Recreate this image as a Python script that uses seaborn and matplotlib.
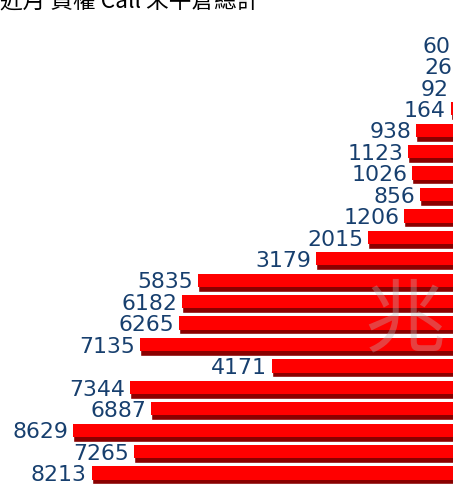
import numpy as np
import pandas as pd
import seaborn as sns
import matplotlib.pyplot as plt

sns.set_style("white")
plt.rcParams['font.family'] = ['Noto Sans CJK TC', 'DejaVu Sans']

title = "近月 買權 Call 未平倉總計"
strikes = [f"r{i}" for i in range(21)]
values = [60, 26, 92, 164, 938, 1123, 1026, 856, 1206, 2015, 3179,
          5835, 6182, 6265, 7135, 4171, 7344, 6887, 8629, 7265, 8213]

df = pd.DataFrame({"row": strikes, "oi": values})

fig = plt.figure(figsize=(4.53, 4.86), dpi=100)
ax = fig.add_axes([0, 0, 1, 0.926])

# dark shadow (full bar), bright red face on top part
sns.barplot(data=df, x="oi", y="row", orient="h", color="#8a0000",
            saturation=1, width=0.86, ax=ax)
pos = np.arange(len(values))
ax.barh(pos - 0.1, df["oi"], height=0.62, color="#ff0000",
        edgecolor="none")

for p, v in zip(pos, values):
    ax.annotate(str(v), (v, p), xytext=(-3.5, 0), textcoords="offset points",
                ha="right", va="center", fontsize=15.8, color="#173f6e",
                family=["DejaVu Sans"], annotation_clip=False)

ax.set_xlim(10269, 112)
ax.set_ylim(20.5, -0.5)
ax.axis("off")

ax.text(0.892, 0.364, "兆", transform=ax.transAxes, fontsize=58,
        color="#b8b8b8", alpha=0.35, ha="center", va="center")

fig.text(0.0, 0.997, title, fontsize=16.3, ha="left", va="center",
         color="black")

fig.savefig("out.png", dpi=100)
